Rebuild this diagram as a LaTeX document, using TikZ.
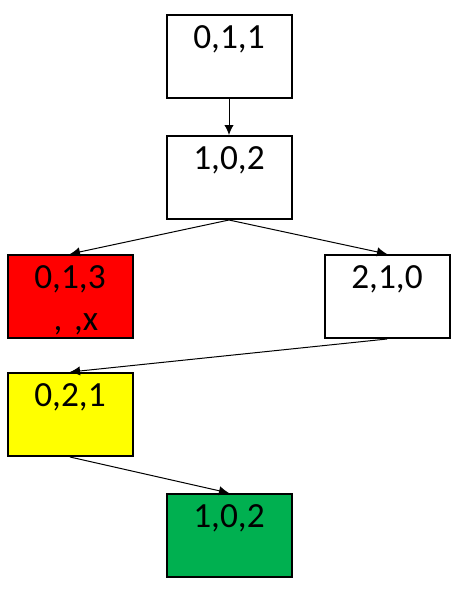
\documentclass[tikz,border=0pt]{standalone}
\usepackage{fontspec}
\setmainfont{Carlito}
\usepackage{xcolor}
\usetikzlibrary{arrows.meta}
\definecolor{stred}{RGB}{255,0,0}
\definecolor{styellow}{RGB}{255,255,0}
\definecolor{stgreen}{RGB}{0,176,80}

\begin{document}
\begin{tikzpicture}[x=0.75pt, y=-0.75pt, >={Latex[length=7.5pt, width=7pt]}]
  \useasboundingbox (0,0) rectangle (455,601);
  \tikzset{state/.style={draw, line width=1.5pt, anchor=north, inner sep=0pt,
      text width=93.75pt, align=center, text height=24.75pt, text depth=37.5pt,
      font=\fontsize{26.5}{32}\selectfont\frenchspacing}}
  \foreach \n/\x/\y/\c/\t in {a/229/14/white/{0,1,1}, b/229/135/white/{1,0,2},
      c/70/254/stred/{0,1,3\\~, ,x}, d/387/254/white/{2,1,0},
      e/70/372/styellow/{0,2,1}, f/229/493/stgreen/{1,0,2}}{
    \node[state, fill=\c] (\n) at (\x,\y) {\t};
  }
  \foreach \s/\e in {a/b, b/c, b/d, d/e, e/f}
    \draw[->, line width=0.75pt] (\s.south) -- (\e.north);
\end{tikzpicture}
\end{document}
